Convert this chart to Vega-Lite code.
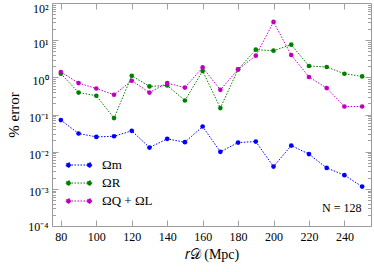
{
  "$schema": "https://vega.github.io/schema/vega-lite/v6.json",
  "width": 319,
  "height": 223,
  "autosize": {"type": "none"},
  "padding": {"left": 52, "top": 3, "right": 3, "bottom": 46},
  "config": {
    "view": {"stroke": "#9a9a9a", "strokeWidth": 1},
    "font": "Liberation Serif",
    "axis": {"domain": false, "tickColor": "#a0a0a0", "labelColor": "#000", "titleColor": "#000", "labelFont": "Liberation Serif", "titleFont": "Liberation Serif", "titleFontWeight": "normal", "labelFontSize": 12, "titleFontSize": 14, "grid": false}
  },
  "datasets": {
    "d": [
      {"r": 80, "s": "Ωm", "v": 0.0706}, {"r": 90, "s": "Ωm", "v": 0.0308}, {"r": 100, "s": "Ωm", "v": 0.025}, {"r": 110, "s": "Ωm", "v": 0.026}, {"r": 120, "s": "Ωm", "v": 0.0364}, {"r": 130, "s": "Ωm", "v": 0.0129}, {"r": 140, "s": "Ωm", "v": 0.0221}, {"r": 150, "s": "Ωm", "v": 0.018}, {"r": 160, "s": "Ωm", "v": 0.0475}, {"r": 170, "s": "Ωm", "v": 0.0099}, {"r": 180, "s": "Ωm", "v": 0.0176}, {"r": 190, "s": "Ωm", "v": 0.0187}, {"r": 200, "s": "Ωm", "v": 0.00396}, {"r": 210, "s": "Ωm", "v": 0.0146}, {"r": 220, "s": "Ωm", "v": 0.0086}, {"r": 230, "s": "Ωm", "v": 0.00366}, {"r": 240, "s": "Ωm", "v": 0.00233}, {"r": 250, "s": "Ωm", "v": 0.00115},
      {"r": 80, "s": "ΩR", "v": 1.25}, {"r": 90, "s": "ΩR", "v": 0.39}, {"r": 100, "s": "ΩR", "v": 0.32}, {"r": 110, "s": "ΩR", "v": 0.08}, {"r": 120, "s": "ΩR", "v": 1.1}, {"r": 130, "s": "ΩR", "v": 0.57}, {"r": 140, "s": "ΩR", "v": 0.605}, {"r": 150, "s": "ΩR", "v": 0.238}, {"r": 160, "s": "ΩR", "v": 1.48}, {"r": 170, "s": "ΩR", "v": 0.149}, {"r": 180, "s": "ΩR", "v": 1.63}, {"r": 190, "s": "ΩR", "v": 5.55}, {"r": 200, "s": "ΩR", "v": 5.21}, {"r": 210, "s": "ΩR", "v": 7.56}, {"r": 220, "s": "ΩR", "v": 2.02}, {"r": 230, "s": "ΩR", "v": 1.9}, {"r": 240, "s": "ΩR", "v": 1.25}, {"r": 250, "s": "ΩR", "v": 1.06},
      {"r": 80, "s": "ΩQ + ΩL", "v": 1.39}, {"r": 90, "s": "ΩQ + ΩL", "v": 0.7}, {"r": 100, "s": "ΩQ + ΩL", "v": 0.5}, {"r": 110, "s": "ΩQ + ΩL", "v": 0.34}, {"r": 120, "s": "ΩQ + ΩL", "v": 0.81}, {"r": 130, "s": "ΩQ + ΩL", "v": 0.39}, {"r": 140, "s": "ΩQ + ΩL", "v": 0.7}, {"r": 150, "s": "ΩQ + ΩL", "v": 0.53}, {"r": 160, "s": "ΩQ + ΩL", "v": 1.85}, {"r": 170, "s": "ΩQ + ΩL", "v": 0.46}, {"r": 180, "s": "ΩQ + ΩL", "v": 1.63}, {"r": 190, "s": "ΩQ + ΩL", "v": 3.82}, {"r": 200, "s": "ΩQ + ΩL", "v": 30.9}, {"r": 210, "s": "ΩQ + ΩL", "v": 3.99}, {"r": 220, "s": "ΩQ + ΩL", "v": 1.02}, {"r": 230, "s": "ΩQ + ΩL", "v": 0.515}, {"r": 240, "s": "ΩQ + ΩL", "v": 0.164}, {"r": 250, "s": "ΩQ + ΩL", "v": 0.164}
    ],
    "n": [{"r": 238.5, "v": 0.00031, "t": "N = 128"}]
  },
  "layer": [
    {
      "data": {"name": "d"},
      "mark": {"type": "line", "strokeDash": [1.5, 1.5], "strokeWidth": 1},
      "encoding": {
        "x": {"field": "r", "type": "quantitative", "scale": {"domain": [75, 255], "nice": false, "zero": false},
          "axis": {"orient": "bottom", "values": [80, 100, 120, 140, 160, 180, 200, 220, 240], "tickSize": -6, "labelPadding": 11, "title": "𝑟𝒟 (Mpc)", "titlePadding": 5}},
        "y": {"field": "v", "type": "quantitative", "scale": {"type": "log", "domain": [0.0001, 100], "nice": false},
          "axis": {"orient": "left", "title": "% error", "titleFontSize": 15, "titlePadding": 6, "labelOverlap": false, "labelPadding": 10,
            "values": [0.0001,0.0002,0.0003,0.0004,0.0005,0.0006,0.0007,0.0008,0.0009,0.001,0.002,0.003,0.004,0.005,0.006,0.007,0.008,0.009,0.01,0.02,0.03,0.04,0.05,0.06,0.07,0.08,0.09,0.1,0.2,0.3,0.4,0.5,0.6,0.7,0.8,0.9,1,2,3,4,5,6,7,8,9,10,20,30,40,50,60,70,80,90,100],
            "tickSize": {"condition": {"test": "abs(log(datum.value)/LN10 - round(log(datum.value)/LN10)) < 0.001", "value": -6}, "value": -3.5},
            "labelOffset": {"condition": [{"test": "datum.value > 50", "value": 5}, {"test": "datum.value < 0.00015", "value": 0}], "value": 3},
            "labelExpr": "abs(log(datum.value)/LN10 - round(log(datum.value)/LN10)) < 0.001 ? ['10⁻⁴','10⁻³','10⁻²','10⁻¹','10⁰','10¹','10²'][round(log(datum.value)/LN10)+4] : ''"}},
        "color": {"field": "s", "type": "nominal", "scale": {"domain": ["Ωm", "ΩR", "ΩQ + ΩL"], "range": ["#0000ff", "#008000", "#bf00bf"]},
          "legend": {"orient": "none", "legendX": 16, "legendY": 151, "title": null, "symbolType": "M-1,0L1,0M-1.22,0a0.22,0.22 0 1,0 0.44,0a0.22,0.22 0 1,0 -0.44,0M0.78,0a0.22,0.22 0 1,0 0.44,0a0.22,0.22 0 1,0 -0.44,0", "symbolSize": 441, "symbolStrokeWidth": 1, "labelFontSize": 13, "labelFont": "Liberation Serif", "labelOffset": 12, "rowPadding": 0, "padding": 0,
            "encode": {"symbols": {"update": {"fill": {"scale": "color", "field": "value"}, "stroke": {"scale": "color", "field": "value"}, "strokeDash": {"value": [1.5, 1.5]}, "opacity": {"value": 1}}}}}}
      }
    },
    {
      "data": {"name": "d"},
      "mark": {"type": "circle", "size": 22, "opacity": 1},
      "encoding": {
        "x": {"field": "r", "type": "quantitative", "axis": null},
        "y": {"field": "v", "type": "quantitative", "axis": null},
        "color": {"field": "s", "type": "nominal"}
      }
    },
    {
      "data": {"name": "n"},
      "mark": {"type": "text", "fontSize": 12, "font": "Liberation Serif"},
      "encoding": {
        "x": {"field": "r", "type": "quantitative", "axis": {"orient": "top", "labels": false, "title": null, "values": [80, 100, 120, 140, 160, 180, 200, 220, 240], "tickSize": -6}},
        "y": {"field": "v", "type": "quantitative", "axis": {"orient": "right", "labels": false, "title": null,
            "values": [0.0001,0.0002,0.0003,0.0004,0.0005,0.0006,0.0007,0.0008,0.0009,0.001,0.002,0.003,0.004,0.005,0.006,0.007,0.008,0.009,0.01,0.02,0.03,0.04,0.05,0.06,0.07,0.08,0.09,0.1,0.2,0.3,0.4,0.5,0.6,0.7,0.8,0.9,1,2,3,4,5,6,7,8,9,10,20,30,40,50,60,70,80,90,100],
            "tickSize": {"condition": {"test": "abs(log(datum.value)/LN10 - round(log(datum.value)/LN10)) < 0.001", "value": -6}, "value": -3.5}}},
        "text": {"field": "t"}
      }
    }
  ],
  "resolve": {"axis": {"x": "independent", "y": "independent"}}
}
